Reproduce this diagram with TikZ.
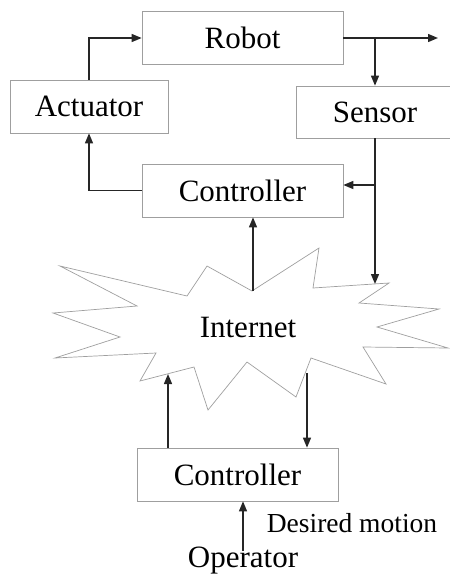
\documentclass[tikz,border=0pt]{standalone}
\usepackage{fontspec}
\setmainfont{Liberation Serif}
\usetikzlibrary{arrows.meta,positioning,calc}
\tikzset{
  box/.style={draw=gray!75, line width=0.7pt, minimum width=201pt, minimum height=53pt, inner sep=0pt, font=\fontsize{31}{31}\selectfont},
  lbl/.style={inner sep=0pt, font=\fontsize{31}{31}\selectfont},
  arr/.style={-{Triangle[length=10pt,width=8pt]}, line width=1.4pt, color=black!85},
  burst/.style={draw=gray!75, line width=0.7pt, line join=miter},
}

\begin{document}
\begin{tikzpicture}[x=1pt, y=-1pt]
    \useasboundingbox (0,0) rectangle (450,576);
    \node[box] (robot) at (242.5,38) {Robot};
    \node[box, minimum width=158pt] (act) at (89,106.5) {Actuator};
    \node[box, minimum width=158pt, minimum height=52pt] (sens) at (375,112) {Sensor};
    \node[box] (ctrl) at (242.5,190.5) {Controller};
    \node[box] (opctrl) at (237.5,474.5) {Controller};
    % the Internet cloud
    \draw[burst] (60,266) -- (187,296) -- (207,266) -- (252,291) -- (319,248) -- (313,288)
      -- (389,283) -- (359,303) -- (439,309) -- (377,327) -- (448,348) -- (363,347)
      -- (386,384) -- (311,358) -- (296,397) -- (247,362) -- (208,410) -- (194,367)
      -- (140,381) -- (156,353) -- (55,358) -- (120,337) -- (53,313) -- (137,306) -- cycle;
    \node[lbl] (net) at (248,327) {Internet};
    \coordinate (netT) at (253,291);
    \coordinate (netR) at (375,284);
    \coordinate (netBL) at (168,374);
    \coordinate (netBR) at (307,373);
    \coordinate (out) at (438,38);
    \coordinate (tapA) at (375,38);
    \coordinate (tapB) at (375,185);
    \node[lbl] (op) at (243,561) {Operator};
    \node[lbl, font=\fontsize{27.5}{27.5}\selectfont] (dm) at (352,523) {Desired motion};
    \draw[arr] (act.north) |- (robot.west);
    \draw[arr] (robot.east) -- (out);
    \draw[arr] (tapA) -- (sens.north);
    \draw[arr] (sens.south) -- (netR);
    \draw[arr] (tapB) -- (tapB -| ctrl.east);
    \draw[arr] (ctrl.west) -| (act.south);
    \draw[arr] (netT) -- (netT |- ctrl.south);
    \draw[arr] (netBL |- opctrl.north) -- (netBL);
    \draw[arr] (netBR) -- (netBR |- opctrl.north);
    \draw[arr] ([yshift=-4pt]op.north) -- (op.north |- opctrl.south);
\end{tikzpicture}
\end{document}
